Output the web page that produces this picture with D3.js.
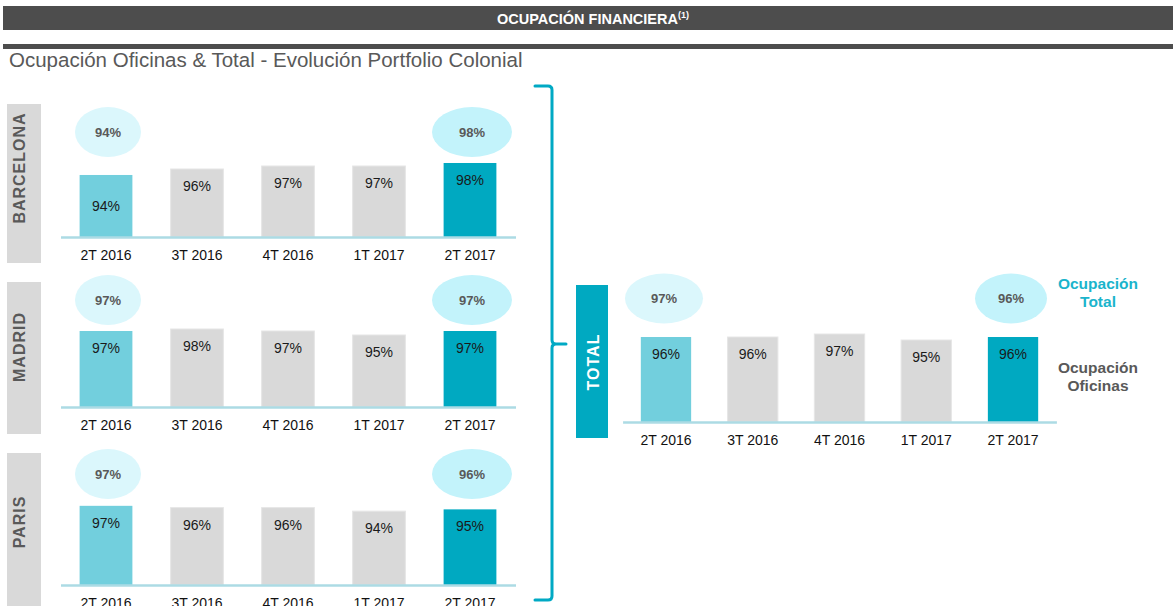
<!DOCTYPE html>
<html>
<head>
<meta charset="utf-8">
<script src="https://cdn.jsdelivr.net/npm/d3@7"></script>
<style>
  html, body { margin: 0; padding: 0; background: #fff; }
  svg { display: block; font-family: "Liberation Sans", Arial, sans-serif; }
</style>
</head>
<body>
<div id="chart"></div>
<script>
// data
const quarters = ['2T 2016', '3T 2016', '4T 2016', '1T 2017', '2T 2017'];
const barcelonaOficinas = [94, 96, 97, 97, 98];
const madridOficinas = [97, 98, 97, 95, 97];
const parisOficinas = [97, 96, 96, 94, 95];
const totalOficinas = [96, 96, 97, 95, 96];
// ocupacion total, first and last quarter
const barcelonaTotal = [94, 98];
const madridTotal = [97, 97];
const parisTotal = [97, 96];
const totalTotal = [97, 96];

const W = 1173, H = 606;
const C = {
  dark: '#4d4d4d', first: '#72cfdd', mid: '#d9d9d9', last: '#00a9c1',
  axis: '#acdbe4', ell1: '#dbf7fc', ell2: '#c3f3fb', teal: '#00a9c4', grey: '#595959'
};

const svg = d3.select('#chart').append('svg').attr('width', W).attr('height', H);

// header
svg.append('rect').attr('x', 3).attr('y', 6).attr('width', W - 3).attr('height', 24).attr('fill', C.dark);
const head = svg.append('text').attr('x', 593).attr('y', 24).attr('text-anchor', 'middle')
  .attr('fill', '#fff').attr('font-weight', 'bold').attr('font-size', '14.5px');
head.append('tspan').text('OCUPACIÓN FINANCIERA');
head.append('tspan').attr('font-size', '9px').attr('dy', -6).text('(1)');
svg.append('rect').attr('x', 3).attr('y', 44).attr('width', W - 3).attr('height', 5).attr('fill', C.dark);
svg.append('text').attr('x', 9).attr('y', 67).attr('font-size', '20.5px').attr('fill', C.grey)
  .text('Ocupación Oficinas & Total - Evolución Portfolio Colonial');

const panels = [
  { name: 'BARCELONA', oficinas: barcelonaOficinas, total: barcelonaTotal, x0: 60.5, x1: 515.5,
    base: 237, floor: 73.3, top: 157, box: [7, 104, 34, 159], tx: 25, ty: 168, ey: 132, rx: [33, 40], edx: 2, firstDy: 36 },
  { name: 'MADRID', oficinas: madridOficinas, total: madridTotal, x0: 60.5, x1: 515.5,
    base: 407, floor: 59, top: 325, box: [7, 282, 34, 152], tx: 25, ty: 347, ey: 300, rx: [33, 40], edx: 2 },
  { name: 'PARIS', oficinas: parisOficinas, total: parisTotal, x0: 60.5, x1: 515.5,
    base: 585, floor: 52.4, top: 500.5, box: [7, 453, 34, 170], tx: 25, ty: 522, ey: 474, rx: [33, 40], edx: 2 },
  { name: 'TOTAL', oficinas: totalOficinas, total: totalTotal, x0: 622.6, x1: 1056.4,
    base: 422, floor: 67.7, top: 325, box: [576, 285, 32, 153], tx: 599, ty: 362, ey: 298.5, rx: [39, 36], edx: -2, filled: true }
];

panels.forEach(p => {
  const g = svg.append('g');
  // side label
  g.append('rect').attr('x', p.box[0]).attr('y', p.box[1]).attr('width', p.box[2]).attr('height', p.box[3])
    .attr('fill', p.filled ? C.last : C.mid);
  g.append('text').attr('transform', `translate(${p.tx},${p.ty}) rotate(-90)`).attr('text-anchor', 'middle')
    .attr('font-size', '16px').attr('font-weight', 'bold').attr('letter-spacing', '1px')
    .attr('fill', p.filled ? '#fff' : C.grey).text(p.name);

  const x = d3.scaleBand().domain(quarters).range([p.x0, p.x1]).paddingInner(0.42).paddingOuter(0.21);
  const y = d3.scaleLinear().domain([p.floor, 100]).range([p.base, p.top]);
  const n = quarters.length;
  const fill = i => i === 0 ? C.first : (i === n - 1 ? C.last : C.mid);

  g.selectAll('.bar').data(p.oficinas).enter().append('rect')
    .attr('x', (_, i) => x(quarters[i])).attr('width', x.bandwidth())
    .attr('y', d => y(d)).attr('height', d => p.base - y(d))
    .attr('fill', (_, i) => fill(i))
    .attr('stroke', (_, i) => (i === 0 || i === n - 1) ? 'none' : '#e6e6e6').attr('stroke-width', 1);

  g.selectAll('.lbl').data(p.oficinas).enter().append('text')
    .attr('x', (_, i) => x(quarters[i]) + x.bandwidth() / 2)
    .attr('y', (d, i) => y(d) + (i === 0 && p.firstDy ? p.firstDy : 22))
    .attr('text-anchor', 'middle').attr('font-size', '14px').attr('fill', '#1a1a1a')
    .text(d => d + '%');

  const ax = g.append('g').attr('transform', `translate(0,${p.base})`)
    .call(d3.axisBottom(x).tickSize(0).tickSizeOuter(0).tickPadding(13));
  ax.select('.domain').attr('stroke', C.axis).attr('stroke-width', 2.5);
  ax.selectAll('text').attr('font-size', '14px').attr('fill', '#111')
    .attr('font-family', '"Liberation Sans", Arial, sans-serif');

  // ocupacion total bubbles
  const ends = [quarters[0], quarters[n - 1]];
  p.total.forEach((v, k) => {
    const cx = x(ends[k]) + x.bandwidth() / 2 + p.edx;
    g.append('ellipse').attr('cx', cx).attr('cy', p.ey).attr('rx', p.rx[k]).attr('ry', 25)
      .attr('fill', k === 0 ? C.ell1 : C.ell2);
    g.append('text').attr('x', cx).attr('y', p.ey + 4.5).attr('text-anchor', 'middle')
      .attr('font-size', '13px').attr('font-weight', 'bold').attr('fill', C.grey).text(v + '%');
  });
});

// bracket
svg.append('path')
  .attr('d', 'M535,86 H548 Q552,86 552,90 V340 Q552,344 556,344 H566 M556,344 Q552,344 552,348 V596 Q552,600 548,600 H535')
  .attr('fill', 'none').attr('stroke', C.teal).attr('stroke-width', 3).attr('stroke-linecap', 'round');

// legend
const leg = [
  { lines: ['Ocupación', 'Total'], y: 289, color: '#1ab4cc' },
  { lines: ['Ocupación', 'Oficinas'], y: 373, color: C.grey }
];
leg.forEach(l => {
  l.lines.forEach((s, i) => {
    svg.append('text').attr('x', 1098).attr('y', l.y + i * 18).attr('text-anchor', 'middle')
      .attr('font-size', '15.5px').attr('font-weight', 'bold').attr('fill', l.color).text(s);
  });
});
</script>
</body>
</html>
